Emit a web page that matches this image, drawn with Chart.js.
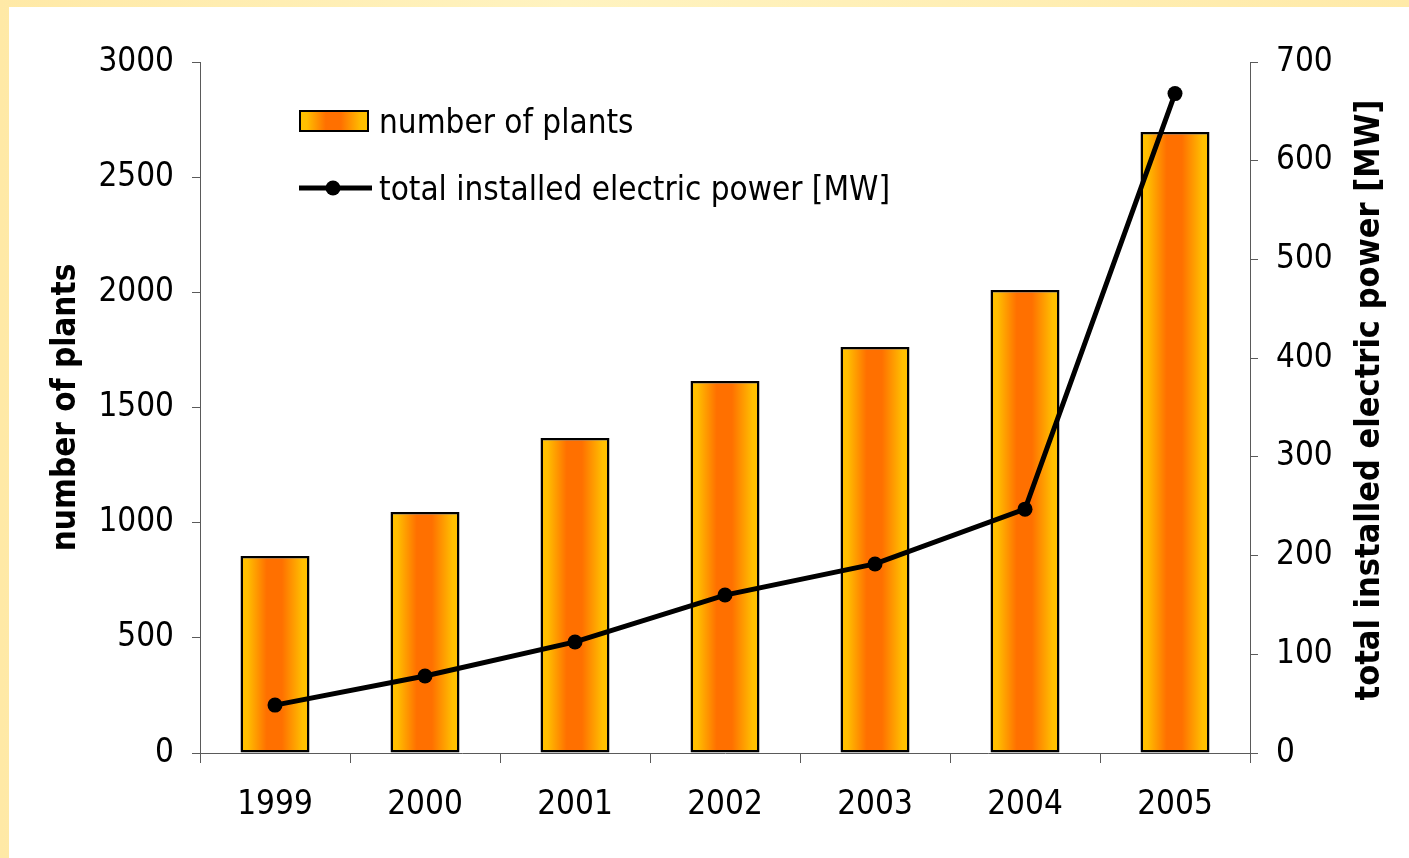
<!DOCTYPE html>
<html>
<head>
<meta charset="utf-8">
<script src="https://cdn.jsdelivr.net/npm/chart.js@4.4.1/dist/chart.umd.min.js"></script>
<style>
  html, body { margin: 0; padding: 0; }
  body {
    width: 1409px; height: 858px; overflow: hidden;
    background: linear-gradient(90deg, #ffe9a6 0%, #fff3c0 40%, #ffeaa8 100%);
  }
  #wrap {
    position: absolute; left: 9px; top: 7px;
    width: 1400px; height: 851px; background: #fff;
  }
</style>
</head>
<body>
<div id="wrap"><canvas id="plants_chart" width="1400" height="851"></canvas></div>
<script>
const FONT = '"DejaVu Sans Condensed", "DejaVu Sans", sans-serif';

// data
const years = ['1999', '2000', '2001', '2002', '2003', '2004', '2005'];
const plants = [855, 1046, 1368, 1615, 1763, 2010, 2696];
const powerMW = [48.5, 78, 112.5, 160, 191.5, 247, 668];
const plantTicks = [0, 500, 1000, 1500, 2000, 2500, 3000];
const powerTicks = [0, 100, 200, 300, 400, 500, 600, 700];

function barGradient(c, x0, x1) {
    const g = c.createLinearGradient(x0, 0, x1, 0);
    g.addColorStop(0, '#ffc200');
    g.addColorStop(0.1, '#ffbe00');
    g.addColorStop(0.38, '#ff7000');
    g.addColorStop(0.6, '#ff7000');
    g.addColorStop(0.9, '#ffbe00');
    g.addColorStop(1, '#ffc200');
    return g;
}

// horizontal gradient on every bar (options are per bar because backgroundColor is scriptable)
const gradientBars = {
    id: 'gradientBars',
    beforeDatasetsDraw(chart) {
        const meta = chart.getDatasetMeta(0);
        meta.data.forEach(bar => {
            const half = bar.width / 2;
            bar.options.backgroundColor = barGradient(chart.ctx, bar.x - half, bar.x + half);
        });
    }
};

// legend inside the plot + right axis title (reads bottom to top)
const extras = {
    id: 'extras',
    afterDraw(chart) {
        const c = chart.ctx;
        const a = chart.chartArea;
        c.save();
        // legend: bars
        const sx = a.left + 100, sy = a.top + 49;
        c.fillStyle = barGradient(c, sx, sx + 68);
        c.fillRect(sx, sy, 68, 20);
        c.lineWidth = 2;
        c.strokeStyle = '#000';
        c.strokeRect(sx, sy, 68, 20);
        c.fillStyle = '#000';
        c.font = '33px ' + FONT;
        c.textBaseline = 'middle';
        c.textAlign = 'left';
        c.fillText(chart.data.datasets[0].label, sx + 79, sy + 13);
        // legend: line
        const ly = a.top + 126;
        c.lineWidth = 5;
        c.beginPath();
        c.moveTo(sx - 1, ly);
        c.lineTo(sx + 72, ly);
        c.stroke();
        c.beginPath();
        c.arc(sx + 33, ly, 7.5, 0, Math.PI * 2);
        c.fill();
        c.fillText(chart.data.datasets[1].label, sx + 79, ly + 3);
        // right axis title
        c.font = 'bold 34px ' + FONT;
        c.textAlign = 'center';
        c.translate(1361, 393);
        c.rotate(-Math.PI / 2);
        c.fillText('total installed electric power [MW]', 0, 0);
        c.restore();
    }
};

const ctx = document.getElementById('plants_chart');

let chart = new Chart(ctx, {
    data: {
        labels: years,
        datasets: [{
            type: 'bar',
            label: 'number of plants',
            data: plants,
            yAxisID: 'y',
            backgroundColor: () => '#ff8c00',
            borderColor: '#000',
            borderWidth: 2.5,
            borderSkipped: false,
            categoryPercentage: 1,
            barPercentage: 0.46,
            order: 2
        }, {
            type: 'line',
            label: 'total installed electric power [MW]',
            data: powerMW,
            yAxisID: 'y1',
            borderColor: '#000',
            backgroundColor: '#000',
            borderWidth: 5,
            pointRadius: 7.5,
            pointBackgroundColor: '#000',
            pointBorderWidth: 0,
            tension: 0,
            order: 1
        }]
    },
    options: {
        responsive: false,
        animation: false,
        layout: { padding: { top: 55, left: 0, right: 0, bottom: 0 } },
        plugins: {
            legend: { display: false },
            tooltip: { enabled: false }
        },
        scales: {
            x: {
                offset: true,
                grid: { offset: true, drawOnChartArea: false, tickLength: 10, color: '#5a5a5a' },
                border: { color: '#5a5a5a' },
                ticks: { color: '#000', font: { family: FONT, size: 33 }, padding: 23 },
                afterFit(s) { s.height = 105; }
            },
            y: {
                position: 'left',
                min: 0, max: 3000,
                afterBuildTicks(s) { s.ticks = plantTicks.map(v => ({ value: v })); },
                grid: { drawOnChartArea: false, tickLength: 8, color: '#5a5a5a' },
                border: { color: '#5a5a5a' },
                ticks: { color: '#000', font: { family: FONT, size: 33 }, padding: 18,
                         callback: v => String(v) },
                title: {
                    display: true,
                    text: 'number of plants',
                    color: '#000',
                    font: { family: FONT, size: 33, weight: 'bold', lineHeight: 1.2 },
                    padding: { top: 38, bottom: 0 }
                },
                afterFit(s) { s.width = 191; }
            },
            y1: {
                position: 'right',
                min: 0, max: 700,
                afterBuildTicks(s) { s.ticks = powerTicks.map(v => ({ value: v })); },
                grid: { drawOnChartArea: false, tickLength: 8, color: '#5a5a5a' },
                border: { color: '#5a5a5a' },
                ticks: { color: '#000', font: { family: FONT, size: 33 }, padding: 18,
                         callback: v => String(v) },
                afterFit(s) { s.width = 159; }
            }
        }
    },
    plugins: [gradientBars, extras]
});
</script>
</body>
</html>
